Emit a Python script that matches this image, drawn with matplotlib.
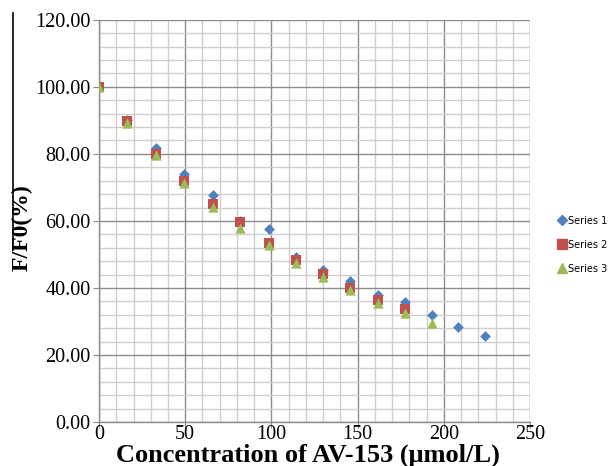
import numpy as np
import matplotlib
matplotlib.use("Agg")
import matplotlib.pyplot as plt
from matplotlib.ticker import MultipleLocator, FormatStrFormatter
from matplotlib.lines import Line2D

# concentration (umol/L) and F/F0 (%)
conc = [0, 16.5, 33, 49.5, 66, 82, 98.5, 114, 130, 145.5, 161.5, 177.5, 193, 208, 224]
series1 = [100, 90.1, 81.8, 74.1, 67.6, 60.0, 57.7, 49.1, 45.3, 42.1, 38.0, 35.7, 31.9, 28.3, 25.6]
series2 = [100, 89.7, 80.0, 71.8, 65.1, 59.6, 53.3, 48.3, 44.3, 40.1, 36.5, 33.6]
series3 = [100, 89.3, 79.6, 71.2, 64.2, 58.0, 52.8, 47.5, 43.2, 39.3, 35.6, 32.4, 29.4]
names = ["Series 1", "Series 2", "Series 3"]

plt.rcParams['font.family'] = ['Liberation Serif', 'DejaVu Serif']

fig = plt.figure(figsize=(6.15, 4.66), dpi=100)
ax = fig.add_axes([0.161, 0.0944, 0.701, 0.863])

ax.scatter(conc[:len(series1)], series1, marker='D', s=30, color='#4F81BD', zorder=3, linewidths=0)
ax.scatter(conc[:len(series2)], series2, marker='s', s=55, color='#C0504D', zorder=4, linewidths=0)
ax.scatter(conc[:len(series3)], series3, marker='^', s=55, color='#9BBB59', zorder=5, linewidths=0)

ax.set_xlim(0, 250)
ax.set_ylim(0, 120)
ax.xaxis.set_major_locator(MultipleLocator(50))
ax.xaxis.set_minor_locator(MultipleLocator(10))
ax.yaxis.set_major_locator(MultipleLocator(20))
ax.yaxis.set_minor_locator(MultipleLocator(4))
ax.yaxis.set_major_formatter(FormatStrFormatter('%.2f'))
ax.grid(which='major', color='#8c8c8c', linewidth=1.0, zorder=1)
ax.grid(which='minor', color='#cfcfcf', linewidth=1.0, zorder=0)
ax.set_axisbelow(True)
for s in ['top', 'right']:
    ax.spines[s].set_visible(False)
for s in ['left', 'bottom']:
    ax.spines[s].set_color('#8c8c8c')
    ax.spines[s].set_linewidth(1.0)
ax.tick_params(which='major', length=4, color='#8c8c8c', labelsize=14.5, pad=2)
ax.tick_params(axis='x', pad=-2)
ax.tick_params(which='minor', length=0)

ax.set_xlabel('Concentration of AV-153 (μmol/L)', fontsize=19, fontweight='bold')
ax.xaxis.set_label_coords(0.485, -0.053)
ax.set_ylabel('F/F0(%)', fontsize=17, fontweight='bold')
ax.yaxis.set_label_coords(-0.153, 0.484)

# legend at right
handles = [
    Line2D([], [], linestyle='none', marker='D', markersize=5, color='#4F81BD'),
    Line2D([], [], linestyle='none', marker='s', markersize=7, color='#C0504D'),
    Line2D([], [], linestyle='none', marker='^', markersize=7, color='#9BBB59'),
]
fig.legend(handles, names, loc='center left', bbox_to_anchor=(0.9, 0.475), frameon=False,
           prop={'family': 'DejaVu Sans', 'size': 7}, handlelength=0.8, handletextpad=0.2,
           labelspacing=1.45, borderpad=0)

# scan artifact line at left edge
fig.add_artist(Line2D([13 / 615, 13 / 615], [1 - 13 / 466, 1 - 250 / 466], color='black', linewidth=1.2))

fig.savefig('out.png', dpi=100)
